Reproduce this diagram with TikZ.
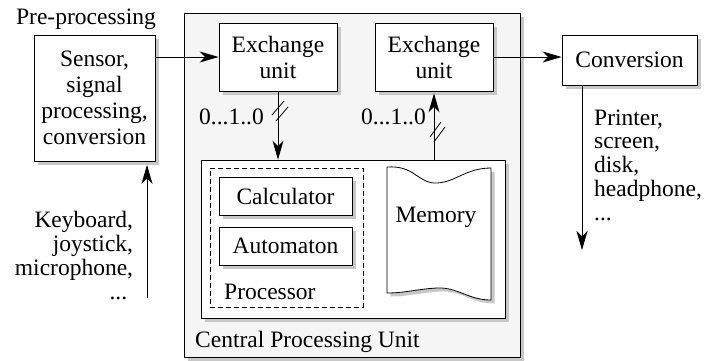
\documentclass[tikz,border=0pt]{standalone}
\usepackage{fontspec}
\setmainfont{Liberation Serif}
\usetikzlibrary{arrows.meta,shadows}
\begin{document}
\begin{tikzpicture}[x=1pt,y=-1pt,
  every node/.style={font=\fontsize{23.5}{26}\selectfont, inner sep=0pt},
  shad/.style={drop shadow={shadow xshift=3.5pt, shadow yshift=-3.5pt, fill=black!22, opacity=1}},
  box/.style={draw, line width=0.8pt, fill=white, shad, align=center},
  lbl/.style={font=\fontsize{23.5}{23.8}\selectfont},
  arr/.style={line width=0.8pt, -{Stealth[length=19pt,width=11pt,inset=5.5pt]}},
  slash/.style={line width=0.8pt}]
\useasboundingbox (0,0) rectangle (705,360);

% CPU container
\node[draw, line width=0.8pt, fill=black!4, shad, minimum width=336, minimum height=344] (cpu) at (352,185) {};
\node[anchor=west] (cpulbl) at (195,342) {Central Processing Unit};

% inner box
\node[box, minimum width=304, minimum height=158] (inner) at (353,239) {};

% processor
\node[draw, dash pattern=on 5pt off 3pt, line width=0.8pt, minimum width=153, minimum height=139] (proc) at (286.5,237.5) {};
\node[box, minimum width=133, minimum height=38] (calc) at (285.5,196) {Calculator};
\node[box, minimum width=133, minimum height=38] (auto) at (285.5,246) {Automaton};
\node[anchor=west] (proclbl) at (224,292) {Processor};

% memory
\fill[black!22, shift={(3.5,3.5)}] (387,167) .. controls (415,165) and (418,184) .. (437,183) .. controls (456,182) and (466,168) .. (491,168)
  -- (491,300) .. controls (468,300) and (458,287) .. (437,288) .. controls (418,289) and (405,293) .. (387,293) -- cycle;
\draw[line width=0.8pt, fill=white] (387,167) .. controls (415,165) and (418,184) .. (437,183) .. controls (456,182) and (466,168) .. (491,168)
  -- (491,300) .. controls (468,300) and (458,287) .. (437,288) .. controls (418,289) and (405,293) .. (387,293) -- cycle;
\node (mem) at (436,217) {Memory};

% exchange units
\node[box, minimum width=118, minimum height=68] (ex1) at (278,57) {Exchange\\unit};
\node[box, minimum width=118, minimum height=68] (ex2) at (434,57) {Exchange\\unit};

% pre-processing
\node (prelbl) at (86,19) {Pre-processing};
\node[box, minimum width=121, minimum height=126] (sensor) at (94.5,98) {Sensor,\\signal\\processing,\\conversion};

% conversion
\node[box, minimum width=135, minimum height=50] (conv) at (629.5,60) {Conversion};

% labels
\node[lbl, align=right] (inlbl) at (74,257) {Keyboard,\\joystick,\\microphone,\\...\phantom{,}};
\node[lbl, align=left, anchor=west] (outlbl) at (594,165) {Printer,\\screen,\\disk,\\headphone,\\...};
\node[anchor=east] (bits1) at (264,117) {0...1..0};
\node[anchor=east] (bits2) at (426,117) {0...1..0};

% connectors
\coordinate (kb) at (147,298);
\coordinate (out) at (582,250);
\draw[arr] (ex1.west -| sensor.east) -- (ex1.west);
\draw[arr] (ex2.east) -- (ex2.east -| conv.west);
\draw[arr] (ex1.south) -- (ex1.south |- inner.north);
\draw[arr, shorten >=2pt] (ex2.south |- inner.north) -- (ex2.south);
\draw[arr, shorten >=3.5pt] (kb) -- (kb |- sensor.south);
\draw[arr] (conv.south -| out) -- (out);

% bus slashes
\coordinate (s1) at (280,111);
\coordinate (s2) at (438,132);
\draw[slash] ([shift={(-8,4)}]s1) -- ++(12,-14);
\draw[slash] ([shift={(-4,10)}]s1) -- ++(12,-14);
\draw[slash] ([shift={(-8,5)}]s2) -- ++(11,-15);
\draw[slash] ([shift={(-4,10)}]s2) -- ++(11,-15);
\end{tikzpicture}
\end{document}
